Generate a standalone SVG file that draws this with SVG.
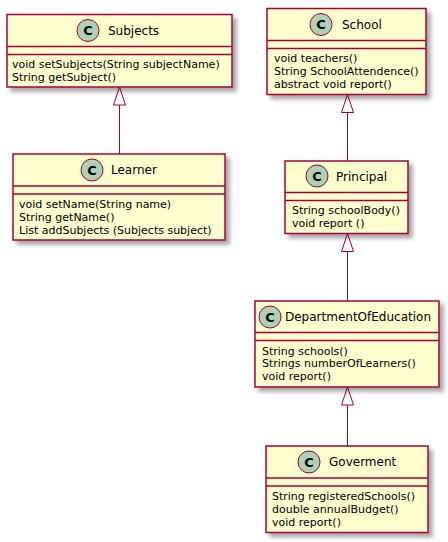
<svg xmlns="http://www.w3.org/2000/svg" width="448" height="542" viewBox="0 0 448 542">
<defs>
<filter id="sh" x="-10%" y="-10%" width="130%" height="130%">
<feGaussianBlur in="SourceAlpha" stdDeviation="2" result="b"/>
<feOffset in="b" dx="4" dy="4" result="o"/>
<feComponentTransfer in="o" result="s"><feFuncA type="linear" slope="0.35"/></feComponentTransfer>
<feMerge><feMergeNode in="s"/><feMergeNode in="SourceGraphic"/></feMerge>
</filter>
</defs>
<style>
.box{fill:#FEFECE;stroke:#A80036;stroke-width:1.5}
.sep{stroke:#A80036;stroke-width:1.5}
.circ{fill:#ADD1B2;stroke:#A80036;stroke-width:1}
.c{font-family:"DejaVu Sans",sans-serif;font-size:13px;font-weight:bold;fill:#000;text-anchor:middle}
.name{font-family:"DejaVu Sans",sans-serif;font-size:12px;fill:#000}
.mem{font-family:"DejaVu Sans",sans-serif;font-size:11px;fill:#000}
.edge{stroke:#A80036;stroke-width:1;fill:none}
</style>
<g id="connectors">
<polygon class="edge" points="119.5,87 113.5,105 125.5,105"/>
<line class="edge" x1="119.5" y1="105" x2="119.5" y2="154"/>
<polygon class="edge" points="347.5,94.5 341.5,112.5 353.5,112.5"/>
<line class="edge" x1="347.5" y1="112.5" x2="347.5" y2="161"/>
<polygon class="edge" points="347.5,233.5 341.5,251.5 353.5,251.5"/>
<line class="edge" x1="347.5" y1="251.5" x2="347.5" y2="301"/>
<polygon class="edge" points="347.5,387 341.5,405 353.5,405"/>
<line class="edge" x1="347.5" y1="405" x2="347.5" y2="446"/>
</g>
<g id="Subjects">
<rect class="box" filter="url(#sh)" x="7" y="14.5" width="225" height="72.5"/>
<circle class="circ" cx="88" cy="30.5" r="11"/>
<text class="c" x="88" y="35">C</text>
<text class="name" x="108" y="35">Subjects</text>
<line class="sep" x1="7" y1="46.5" x2="232" y2="46.5"/>
<line class="sep" x1="7" y1="54.5" x2="232" y2="54.5"/>
<text class="mem" x="12" y="68">void setSubjects(String subjectName)</text>
<text class="mem" x="12" y="81">String getSubject()</text>
</g>
<g id="Learner">
<rect class="box" filter="url(#sh)" x="13" y="154" width="212" height="86"/>
<circle class="circ" cx="92" cy="170" r="11"/>
<text class="c" x="92" y="174.5">C</text>
<text class="name" x="111" y="174">Learner</text>
<line class="sep" x1="13" y1="186" x2="225" y2="186"/>
<line class="sep" x1="13" y1="194" x2="225" y2="194"/>
<text class="mem" x="19" y="207.5">void setName(String name)</text>
<text class="mem" x="19" y="220.5">String getName()</text>
<text class="mem" x="19" y="233.5">List addSubjects (Subjects subject)</text>
</g>
<g id="School">
<rect class="box" filter="url(#sh)" x="267" y="8.5" width="159" height="86"/>
<circle class="circ" cx="321" cy="24.5" r="11"/>
<text class="c" x="321" y="29">C</text>
<text class="name" x="342" y="28.5">School</text>
<line class="sep" x1="267" y1="40.5" x2="426" y2="40.5"/>
<line class="sep" x1="267" y1="48.5" x2="426" y2="48.5"/>
<text class="mem" x="274" y="62">void teachers()</text>
<text class="mem" x="274" y="75">String SchoolAttendence()</text>
<text class="mem" x="274" y="88">abstract void report()</text>
</g>
<g id="Principal">
<rect class="box" filter="url(#sh)" x="285" y="161" width="123" height="72.5"/>
<circle class="circ" cx="317" cy="176" r="11"/>
<text class="c" x="317" y="180.5">C</text>
<text class="name" x="336" y="181">Principal</text>
<line class="sep" x1="285" y1="192.5" x2="408" y2="192.5"/>
<line class="sep" x1="285" y1="200.5" x2="408" y2="200.5"/>
<text class="mem" x="292" y="214">String schoolBody()</text>
<text class="mem" x="292" y="227">void report ()</text>
</g>
<g id="DepartmentOfEducation">
<rect class="box" filter="url(#sh)" x="255" y="301" width="184" height="86"/>
<circle class="circ" cx="270" cy="317" r="11"/>
<text class="c" x="270" y="321.5">C</text>
<text class="name" x="285" y="321">DepartmentOfEducation</text>
<line class="sep" x1="255" y1="332.5" x2="439" y2="332.5"/>
<line class="sep" x1="255" y1="340.5" x2="439" y2="340.5"/>
<text class="mem" x="262" y="354.5">String schools()</text>
<text class="mem" x="262" y="367">Strings numberOfLearners()</text>
<text class="mem" x="262" y="380">void report()</text>
</g>
<g id="Goverment">
<rect class="box" filter="url(#sh)" x="266" y="446" width="162" height="86.5"/>
<circle class="circ" cx="309" cy="462" r="11"/>
<text class="c" x="309" y="466.5">C</text>
<text class="name" x="329" y="466">Goverment</text>
<line class="sep" x1="266" y1="478" x2="428" y2="478"/>
<line class="sep" x1="266" y1="486" x2="428" y2="486"/>
<text class="mem" x="272" y="500">String registeredSchools()</text>
<text class="mem" x="272" y="512.5">double annualBudget()</text>
<text class="mem" x="272" y="525.5">void report()</text>
</g>
</svg>
